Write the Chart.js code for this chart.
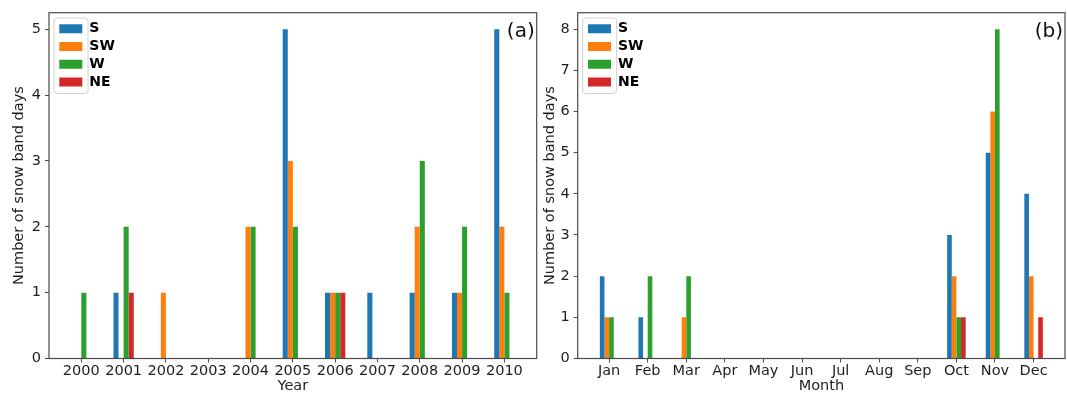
<!DOCTYPE html>
<html><head><meta charset="utf-8">
<script src="https://cdn.jsdelivr.net/npm/chart.js@4/dist/chart.umd.min.js"></script>
<style>
html,body{margin:0;padding:0;background:#fff;}
body{width:1067px;height:394px;position:relative;overflow:hidden;}
.pane{position:absolute;top:0;height:394px;}
#pa{left:0;width:540px;}
#pb{left:530px;width:537px;}
</style></head><body>
<div class="pane" id="pa"><canvas id="ca"></canvas></div>
<div class="pane" id="pb"><canvas id="cb"></canvas></div>
<script>
// ---- data ----
const seriesNames = ['S', 'SW', 'W', 'NE'];
const years = ['2000','2001','2002','2003','2004','2005','2006','2007','2008','2009','2010'];
const yearS  = [0, 1, 0, 0, 0, 5, 1, 1, 1, 1, 5];
const yearSW = [0, 0, 1, 0, 2, 3, 1, 0, 2, 1, 2];
const yearW  = [1, 2, 0, 0, 2, 2, 1, 0, 3, 2, 1];
const yearNE = [0, 1, 0, 0, 0, 0, 1, 0, 0, 0, 0];
const months = ['Jan','Feb','Mar','Apr','May','Jun','Jul','Aug','Sep','Oct','Nov','Dec'];
const monS  = [2, 1, 0, 0, 0, 0, 0, 0, 0, 3, 5, 4];
const monSW = [1, 0, 1, 0, 0, 0, 0, 0, 0, 2, 6, 2];
const monW  = [1, 2, 2, 0, 0, 0, 0, 0, 0, 1, 8, 0];
const monNE = [0, 0, 0, 0, 0, 0, 0, 0, 0, 1, 0, 1];
const yTicksA = [0, 1, 2, 3, 4, 5];
const yTicksB = [0, 1, 2, 3, 4, 5, 6, 7, 8];
const yTitle = 'Number of snow band days';

// ---- style ----
const seriesColors = ['#1f77b4', '#ff7f0e', '#2ca02c', '#d62728'];
const FONT = "'DejaVu Sans', sans-serif";
const SPINE = '#4a4a4a';
const TXT = '#1e1e1e';
Chart.defaults.font.family = FONT;
Chart.defaults.color = TXT;

const deco = {
  id: 'deco',
  afterLayout(chart) {
    const lg = chart.legend, ca = chart.chartArea;
    const w = lg.width;
    lg.left = ca.left + 6.5;
    lg.top = ca.top + 5.2;
    lg.right = lg.left + w;
    lg.bottom = ca.bottom;
  },
  beforeDraw(chart) {
    const lg = chart.legend, ctx = chart.ctx;
    const boxes = lg.legendHitBoxes;
    if (!boxes || !boxes.length) return;
    const first = boxes[0], last = boxes[boxes.length - 1];
    const x0 = first.left - 5.3, y0 = first.top - 3.7;
    const x1 = first.left + 28.7, y1 = last.top + last.height + 4.4;
    ctx.save();
    ctx.beginPath();
    ctx.roundRect(x0, y0, x1 - x0, y1 - y0, 3);
    ctx.fillStyle = '#ffffff';
    ctx.fill();
    ctx.strokeStyle = '#d2d2d2';
    ctx.lineWidth = 1;
    ctx.stroke();
    ctx.restore();
  },
  afterDraw(chart, args, opts) {
    const ctx = chart.ctx, ca = chart.chartArea;
    ctx.save();
    ctx.strokeStyle = SPINE;
    ctx.lineWidth = 1.2;
    ctx.strokeRect(ca.left, ca.top, ca.right - ca.left, ca.bottom - ca.top);
    ctx.fillStyle = '#111';
    ctx.font = '20px ' + FONT;
    ctx.textAlign = 'right';
    ctx.textBaseline = 'middle';
    ctx.fillText(opts.label, ca.right - 2, ca.top + 19);
    ctx.restore();
  }
};

function makeChart(id, labels, series, yTicks, xMin, xMax, yMax, xTitle, panel, pad, yWidth) {
  const datasets = series.map((vals, i) => ({
    label: seriesNames[i],
    data: vals.map((v, k) => ({x: k, y: v})),
    backgroundColor: seriesColors[i],
    borderWidth: 0,
    categoryPercentage: 0.48,
    barPercentage: 1.0
  }));
  return new Chart(document.getElementById(id), {
    type: 'bar',
    data: {datasets},
    plugins: [deco],
    options: {
      responsive: true,
      maintainAspectRatio: false,
      animation: false,
      devicePixelRatio: 1,
      layout: {padding: pad},
      plugins: {
        deco: {label: panel},
        tooltip: {enabled: false},
        legend: {
          position: 'chartArea',
          align: 'start',
          labels: {
            boxWidth: 23, boxHeight: 9, padding: 3.8,
            color: '#000',
            font: {size: 14, weight: 'bold', family: FONT}
          }
        }
      },
      scales: {
        x: {
          type: 'linear',
          min: xMin, max: xMax,
          offset: false,
          afterBuildTicks: s => { s.ticks = labels.map((_, k) => ({value: k})); },
          afterFit: s => { s.height = 35.5; },
          border: {display: false},
          grid: {drawOnChartArea: false, drawTicks: true, tickLength: 4, color: SPINE, offset: false},
          ticks: {
            autoSkip: false, maxRotation: 0, minRotation: 0, padding: 0,
            color: TXT, font: {size: 14.5, family: FONT},
            callback: v => labels[v] ?? ''
          },
          title: {display: true, text: xTitle, color: TXT, font: {size: 14.5, family: FONT}, padding: {top: 0, bottom: -1}}
        },
        y: {
          type: 'linear',
          min: 0, max: yMax,
          afterBuildTicks: s => { s.ticks = yTicks.map(v => ({value: v})); },
          afterFit: s => { s.width = yWidth; },
          border: {display: false},
          grid: {drawOnChartArea: false, drawTicks: true, tickLength: 4, color: SPINE},
          ticks: {
            padding: 4, color: TXT, font: {size: 14.5, family: FONT},
            callback: v => String(v)
          },
          title: {display: true, text: yTitle, color: TXT, font: {size: 14.5, family: FONT}, padding: {top: 4, bottom: 4}}
        }
      }
    }
  });
}

makeChart('ca', years, [yearS, yearSW, yearW, yearNE], yTicksA,
  -0.764, 10.764, 5.25, 'Year', '(a)', {left: 7, right: 3.3, top: 12, bottom: 0}, 42);
makeChart('cb', months, [monS, monSW, monW, monNE], yTicksB,
  -0.814, 11.814, 8.4, 'Month', '(b)', {left: 7.7, right: 2, top: 12, bottom: 0}, 40);
</script>
</body></html>
